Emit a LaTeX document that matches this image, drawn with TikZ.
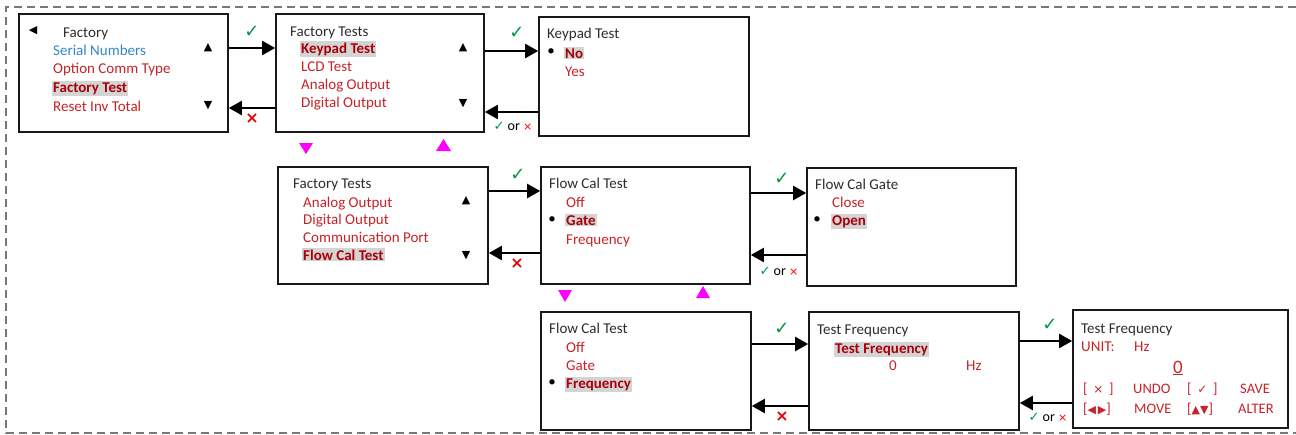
\documentclass[tikz,border=0pt]{standalone}
\usepackage{fontspec}
\setmainfont{Carlito}
\newfontfamily\symf{DejaVu Sans}
\usetikzlibrary{arrows.meta}
\definecolor{itemred}{RGB}{200,35,40}
\definecolor{selred}{RGB}{170,0,10}
\definecolor{hl}{RGB}{212,212,212}
\definecolor{itemblue}{RGB}{55,135,200}
\definecolor{okgreen}{RGB}{0,150,70}
\definecolor{titlek}{RGB}{45,45,45}
\definecolor{dashgray}{RGB}{120,120,120}
\definecolor{mag}{RGB}{255,0,255}
\newcommand\mysz{\fontsize{15}{17}\selectfont}
\begin{document}
\begin{tikzpicture}[x=1pt,y=-1pt,
  box/.style={draw=black!90, line width=1.6pt, fill=white, inner sep=0pt},
  title/.style={anchor=base west, inner sep=0pt, text=titlek, font=\mysz},
  item/.style={anchor=base west, inner sep=0pt, text=itemred, font=\mysz},
  sel/.style={anchor=base west, inner sep=1.2pt, fill=hl, text=selred, font=\bfseries\mysz},
  sym/.style={inner sep=0pt, text=black, font=\symf\fontsize{11}{11}\selectfont},
  bul/.style={inner sep=0pt, text=black, font=\mysz},
  fw/.style={line width=2.2pt, draw=black, -{Triangle[length=13pt,width=14pt]}},
  ok/.style={inner sep=0pt, text=okgreen, font=\symf\fontsize{18}{18}\selectfont},
  no/.style={inner sep=0pt, text=red!90!black, font=\symf\bfseries\fontsize{16}{16}\selectfont},
  either/.style={inner sep=0pt, text=black, font=\fontsize{14}{14}\selectfont},
  rowtxt/.style={item, font=\fontsize{14.5}{16}\selectfont},
  border/.style={draw=dashgray, line width=2pt, dash pattern=on 8pt off 5pt},
  magtri/.style={fill=mag}
]
\useasboundingbox (0,0) rectangle (1296,434);
\draw[border] (1296,7) -- (6,7) -- (6,433) -- (1296,433);

% boxes
\node[box, minimum width=209pt, minimum height=118pt] (b1) at (123.5,73) {};
\node[box, minimum width=208pt, minimum height=118pt] (b2) at (380,73) {};
\node[box, minimum width=210pt, minimum height=119pt] (b3) at (644,76.5) {};
\node[box, minimum width=210pt, minimum height=117pt] (b4) at (383,225.5) {};
\node[box, minimum width=209pt, minimum height=117pt] (b5) at (645.5,225.5) {};
\node[box, minimum width=209pt, minimum height=118pt] (b6) at (911.5,227) {};
\node[box, minimum width=210pt, minimum height=118pt] (b7) at (646,371) {};
\node[box, minimum width=210pt, minimum height=118pt] (b8) at (914,371) {};
\node[box, minimum width=215pt, minimum height=118pt] (b9) at (1180.5,369) {};

% box 1
\node[sym] (b1l) at (33,31) {◀};
\node[title] (b1t) at (63,37) {Factory};
\node[item, text=itemblue] (b1a) at (53,55) {Serial Numbers};
\node[item] (b1b) at (53,73) {Option Comm Type};
\node[sel] (b1c) at (51.8,92) {Factory Test};
\node[item] (b1d) at (53,111) {Reset Inv Total};
\node[sym] (b1u) at (208,48) {▲};
\node[sym] (b1n) at (208,106) {▼};

% box 2
\node[title] (b2t) at (290,36) {Factory Tests};
\node[sel] (b2a) at (299.8,53) {Keypad Test};
\node[item] (b2b) at (301,71) {LCD Test};
\node[item] (b2c) at (301,89) {Analog Output};
\node[item] (b2d) at (301,107) {Digital Output};
\node[sym] (b2u) at (463,48) {▲};
\node[sym] (b2n) at (463,104) {▼};

% box 3
\node[title] (b3t) at (547,38) {Keypad Test};
\node[bul] (b3p) at (551,52) {•};
\node[sel] (b3a) at (563.8,58) {No};
\node[item] (b3b) at (565,76) {Yes};

% box 4
\node[title] (b4t) at (293,188) {Factory Tests};
\node[item] (b4a) at (303,207) {Analog Output};
\node[item] (b4b) at (303,224) {Digital Output};
\node[item] (b4c) at (303,242) {Communication Port};
\node[sel] (b4d) at (301.8,260) {Flow Cal Test};
\node[sym] (b4u) at (466,201) {▲};
\node[sym] (b4n) at (466,256) {▼};

% box 5
\node[title] (b5t) at (549,188) {Flow Cal Test};
\node[item] (b5a) at (566,207) {Off};
\node[bul] (b5p) at (552,220) {•};
\node[sel] (b5b) at (564.8,225) {Gate};
\node[item] (b5c) at (566,244) {Frequency};

% box 6
\node[title] (b6t) at (815,189) {Flow Cal Gate};
\node[item] (b6a) at (832,207) {Close};
\node[bul] (b6p) at (817,220) {•};
\node[sel] (b6b) at (830.8,225) {Open};

% box 7
\node[title] (b7t) at (549,333) {Flow Cal Test};
\node[item] (b7a) at (566,352) {Off};
\node[item] (b7b) at (566,370) {Gate};
\node[bul] (b7p) at (552,383) {•};
\node[sel] (b7c) at (564.8,388) {Frequency};

% box 8
\node[title] (b8t) at (817,334) {Test Frequency};
\node[sel] (b8a) at (833.8,353) {Test Frequency};
\node[item, anchor=base] (b8b) at (893,370) {0};
\node[item] (b8c) at (966,370) {Hz};

% box 9
\node[title] (b9t) at (1081,333) {Test Frequency};
\node[item] (b9a) at (1081,351) {UNIT:};
\node[item] (b9b) at (1134,351) {Hz};
\node[item, anchor=base, font=\fontsize{19}{19}\selectfont] (b9c) at (1178,373) {\underline{0}};
\node[rowtxt] (b9d) at (1083,393) {[\, {\symf\fontsize{12}{12}\selectfont ×}\, ]};
\node[rowtxt] (b9e) at (1133,393) {UNDO};
\node[rowtxt] (b9f) at (1187,393) {[\, {\symf\fontsize{12}{12}\selectfont ✓}\, ]};
\node[rowtxt] (b9g) at (1240,393) {SAVE};
\node[rowtxt] (b9h) at (1083,413) {[{\symf\fontsize{11}{11}\selectfont ◀\,▶}]};
\node[rowtxt] (b9i) at (1134,413) {MOVE};
\node[rowtxt] (b9j) at (1187,413) {[{\symf\fontsize{11}{11}\selectfont ▲▼}]};
\node[rowtxt] (b9k) at (1238,413) {ALTER};

% connectors
\draw[fw] (b1.east |- 0,48) -- (b2.west |- 0,48);
\draw[fw] (b2.west |- 0,108) -- (b1.east |- 0,108);
\draw[fw] (b2.east |- 0,51) -- (b3.west |- 0,51);
\draw[fw] (b3.west |- 0,112) -- (b2.east |- 0,112);
\draw[fw] (b4.east |- 0,191) -- (b5.west |- 0,191);
\draw[fw] (b5.west |- 0,253) -- (b4.east |- 0,253);
\draw[fw] (b5.east |- 0,193) -- (b6.west |- 0,193);
\draw[fw] (b6.west |- 0,255) -- (b5.east |- 0,255);
\draw[fw] (b7.east |- 0,344) -- (b8.west |- 0,344);
\draw[fw] (b8.west |- 0,406) -- (b7.east |- 0,406);
\draw[fw] (b8.east |- 0,341) -- (b9.west |- 0,341);
\draw[fw] (b9.west |- 0,403) -- (b8.east |- 0,403);

% labels
\node[ok] (c1) at (252,32) {✓};
\node[no] (x1) at (252,119) {×};
\node[ok] (c2) at (517,33) {✓};
\node[either] (e2) at (513,126) {{\color{okgreen}\symf\fontsize{13}{13}\selectfont ✓} or {\color{red}\symf\fontsize{11}{11}\selectfont ×}};
\node[ok] (c3) at (518,175) {✓};
\node[no] (x3) at (517,264) {×};
\node[ok] (c4) at (782,179) {✓};
\node[either] (e4) at (779,271) {{\color{okgreen}\symf\fontsize{13}{13}\selectfont ✓} or {\color{red}\symf\fontsize{11}{11}\selectfont ×}};
\node[ok] (c5) at (782,329) {✓};
\node[no] (x5) at (782,417) {×};
\node[ok] (c6) at (1050,325) {✓};
\node[either] (e6) at (1048,417) {{\color{okgreen}\symf\fontsize{13}{13}\selectfont ✓} or {\color{red}\symf\fontsize{11}{11}\selectfont ×}};

% magenta scroll markers
\fill[magtri] (299,143) -- (313,143) -- (306,154) -- cycle;
\fill[magtri] (436,151) -- (451,151) -- (443.5,139) -- cycle;
\fill[magtri] (558,290) -- (572,290) -- (565,302) -- cycle;
\fill[magtri] (696,298) -- (710,298) -- (703,286) -- cycle;
\end{tikzpicture}
\end{document}
